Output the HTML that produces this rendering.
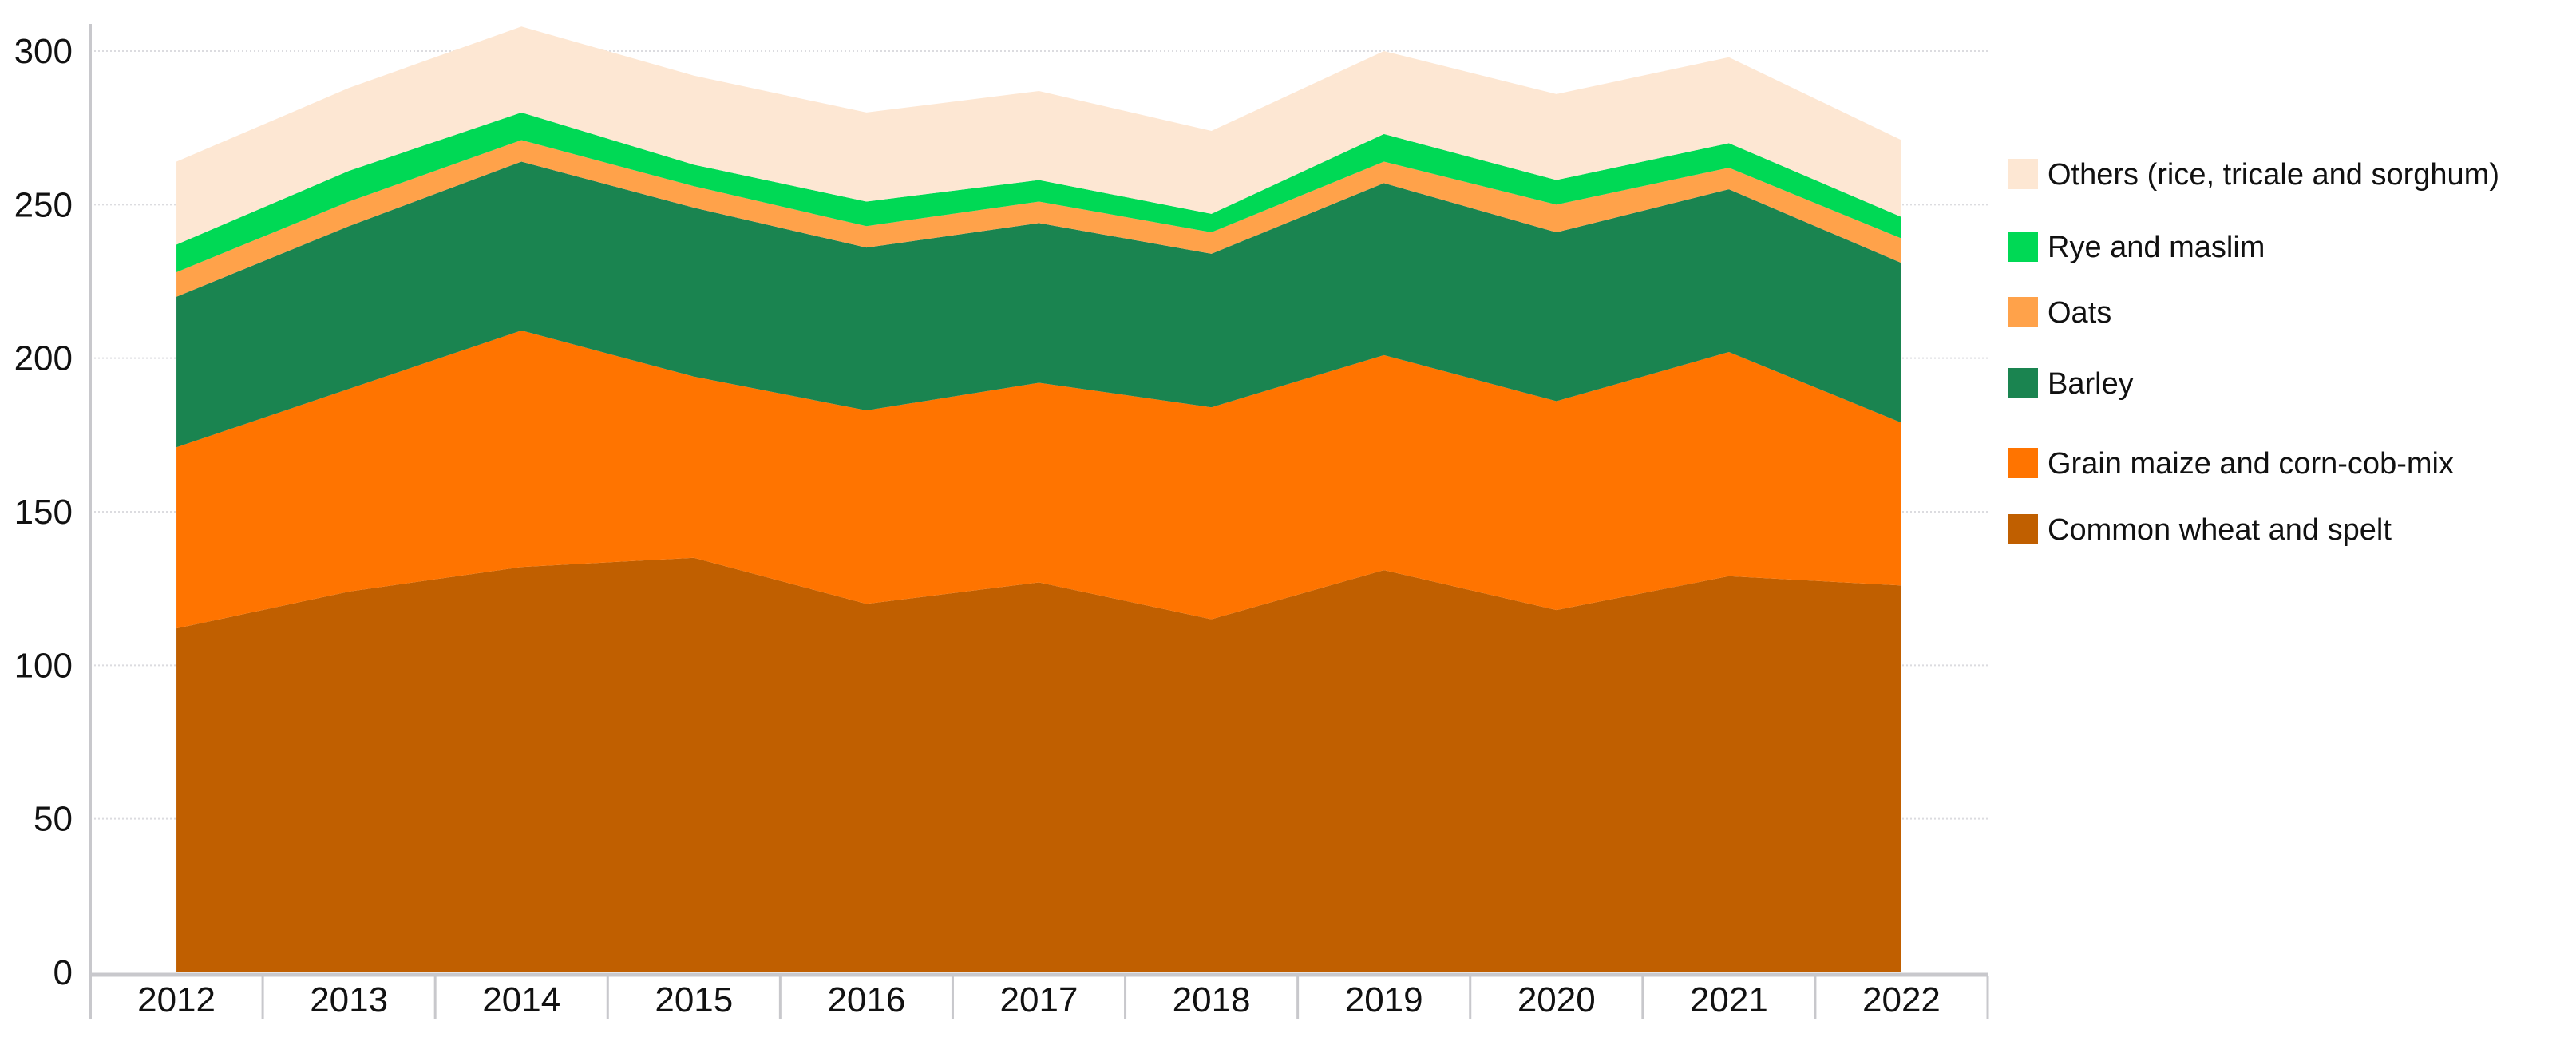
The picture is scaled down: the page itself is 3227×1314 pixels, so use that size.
<!DOCTYPE html>
<html><head><meta charset="utf-8"><style>
html,body{margin:0;padding:0;background:#fff;}
svg{display:block;font-family:"Liberation Sans Narrow","Liberation Sans",Arial,sans-serif;}
</style></head><body>
<svg id="chart" width="3227" height="1314" viewBox="0 0 3227 1314">
<g id="grid"></g>
<g id="areas"></g>
<g id="axes"></g>
<g id="legend"></g>
</svg>
<script>
const years = ["2012","2013","2014","2015","2016","2017","2018","2019","2020","2021","2022"];
const wheat  = [112,124,132,135,120,127,115,131,118,129,126];
const maize  = [59,66,77,59,63,65,69,70,68,73,53];
const barley = [49,53,55,55,53,52,50,56,55,53,52];
const oats   = [8,8,7,7,7,7,7,7,9,7,8];
const rye    = [9,10,9,7,8,7,6,9,8,8,7];
const others = [27,27,28,29,29,29,27,27,28,28,25];
const yTicks = [0,50,100,150,200,250,300];
const seriesNames = ["Common wheat and spelt","Grain maize and corn-cob-mix","Barley","Oats","Rye and maslim","Others (rice, tricale and sorghum)"];

const NS="http://www.w3.org/2000/svg";
const X0=113, X1=2490, Y0=1218, Y300=64;
const step=(X1-X0)/years.length;
function xPos(i){return X0+step*(i+0.5);}
function yPos(v){return Y0-(Y0-Y300)*v/300;}
function mk(tag,attrs,parent){const e=document.createElementNS(NS,tag);for(const k in attrs)e.setAttribute(k,attrs[k]);parent.appendChild(e);return e;}

const grid=document.getElementById('grid');
yTicks.forEach(t=>{ if(t===0)return;
  const l=mk('line',{x1:X0,x2:X1,y1:yPos(t),y2:yPos(t),stroke:'#dcdce0','stroke-width':2,'stroke-dasharray':'2,3'},grid);
  
  
});

const series=[wheat,maize,barley,oats,rye,others];
const colors=["#c05f00","#ff7400","#1a8450","#ffa24a","#00d955","#fde7d3"];
const keys=["wheat","maize","barley","oats","rye","others"];
const areas=document.getElementById('areas');
let base=years.map(()=>0);
series.forEach((s,k)=>{
  const top=base.map((b,i)=>b+s[i]);
  let d='';
  top.forEach((v,i)=>{d+=(i?'L':'M')+xPos(i)+','+yPos(v);});
  for(let i=years.length-1;i>=0;i--)d+='L'+xPos(i)+','+yPos(base[i]);
  d+='Z';
  const p=mk('path',{d:d,fill:colors[k]},areas);
  
  
  base=top;
});

const axes=document.getElementById('axes');
const ya=mk('line',{x1:X0,x2:X0,y1:30,y2:1276,stroke:'#c8c8cc','stroke-width':4},axes);


const xa=mk('line',{x1:X0,x2:X1,y1:Y0+3,y2:Y0+3,stroke:'#c8c8cc','stroke-width':5},axes);


yTicks.forEach(t=>{
  const tx=mk('text',{x:91,y:yPos(t)+15,'text-anchor':'end','font-size':44,fill:'#111'},axes);
  tx.textContent=t;
  
  
});
for(let i=0;i<=years.length;i++){
  const tl=mk('line',{x1:X0+step*i,x2:X0+step*i,y1:Y0+5,y2:1276,stroke:'#c8c8cc','stroke-width':3},axes);
  
  
}
years.forEach((y,i)=>{
  const tx=mk('text',{x:xPos(i),y:1267,'text-anchor':'middle','font-size':44,fill:'#111'},axes);
  tx.textContent=y;
  
  
});

const legend=document.getElementById('legend');
const rowY=[663,580,480,391,309,218];
seriesNames.forEach((n,k)=>{
  const g=mk('g',{},legend);
  
  
  const r=mk('rect',{x:2515,y:rowY[k]-19,width:38,height:38,fill:colors[k]},g);
  
  
  const t=mk('text',{x:2565,y:rowY[k]+13,'font-size':38,fill:'#111'},g);
  t.textContent=n;
  
  
});
</script>
</body></html>
